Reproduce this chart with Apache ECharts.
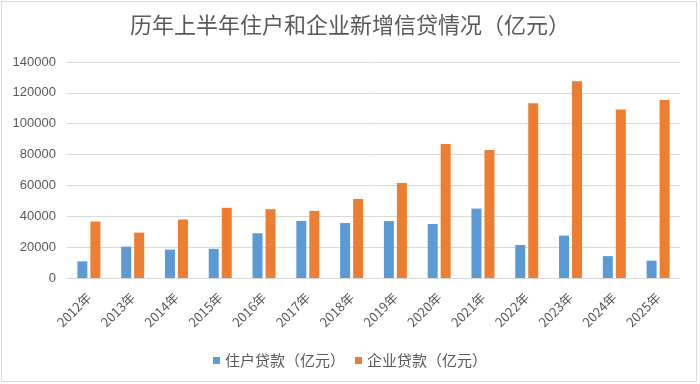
<!DOCTYPE html>
<html>
<head>
<meta charset="utf-8">
<script src="https://cdn.jsdelivr.net/npm/echarts@6/dist/echarts.min.js"></script>
<style>html,body{margin:0;padding:0;background:#fff;}#c{width:700px;height:384px;}</style>
</head>
<body>
<div id="c"></div>
<script>
var categories = ['2012年','2013年','2014年','2015年','2016年','2017年','2018年','2019年','2020年','2021年','2022年','2023年','2024年','2025年'];
var householdLoans = [10800, 20300, 18400, 18900, 29000, 37000, 35600, 36900, 35000, 45000, 21400, 27500, 14200, 11200];
var corporateLoans = [36600, 29400, 37900, 45500, 44600, 43500, 51200, 61600, 86800, 82900, 113200, 127600, 109200, 115300];
var yTicks = [0, 20000, 40000, 60000, 80000, 100000, 120000, 140000];

var chart = echarts.init(document.getElementById('c'), null, {renderer: 'canvas'});
var font = '"Noto Sans CJK SC", "Noto Sans", sans-serif';
chart.setOption({
  backgroundColor: '#fff',
  animation: false,
  graphic: [{
    type: 'rect',
    shape: {x: 1.5, y: 1.5, width: 695, height: 380},
    style: {fill: 'none', stroke: '#d9d9d9', lineWidth: 1},
    silent: true
  }],
  title: {
    text: '历年上半年住户和企业新增信贷情况（亿元）',
    left: 'center',
    top: 9,
    textStyle: {color: '#595959', fontSize: 22, fontWeight: 'normal', fontFamily: font}
  },
  legend: {
    bottom: 11,
    left: 'center',
    itemWidth: 7,
    itemHeight: 7,
    itemGap: 10,
    icon: 'rect',
    textStyle: {color: '#595959', fontSize: 15, fontFamily: font}
  },
  grid: {left: 67, right: 20, top: 62, bottom: 106, containLabel: false},
  xAxis: {
    type: 'category',
    data: categories,
    axisLine: {lineStyle: {color: '#d9d9d9'}},
    axisTick: {show: false},
    axisLabel: {rotate: 45, color: '#595959', fontSize: 13, margin: 17, fontFamily: font, interval: 0}
  },
  yAxis: {
    type: 'value',
    min: yTicks[0],
    max: yTicks[yTicks.length - 1],
    interval: 20000,
    axisLine: {show: false},
    axisTick: {show: false},
    splitLine: {lineStyle: {color: '#d9d9d9', width: 1}},
    axisLabel: {
      color: '#595959', fontSize: 13, margin: 11,
      fontFamily: '"Liberation Sans", "Noto Sans", sans-serif',
      formatter: function (v) { return String(v); }
    }
  },
  series: [
    {
      name: '住户贷款（亿元）',
      type: 'bar',
      data: householdLoans,
      barWidth: 10,
      barGap: '30%',
      itemStyle: {color: '#5B9BD5'}
    },
    {
      name: '企业贷款（亿元）',
      type: 'bar',
      data: corporateLoans,
      barWidth: 10,
      barGap: '30%',
      itemStyle: {color: '#ED7D31'}
    }
  ]
});
</script>
</body>
</html>
